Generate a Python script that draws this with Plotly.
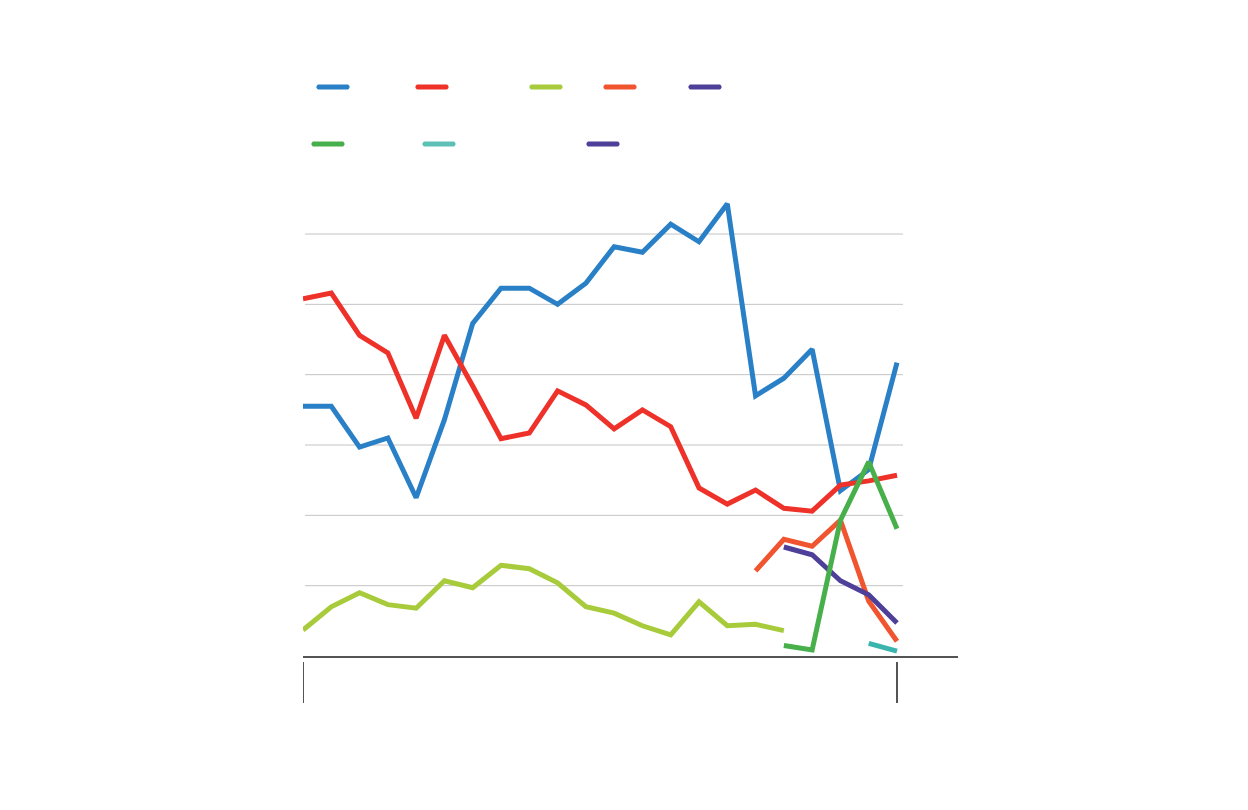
import math
import plotly.graph_objects as go

# x positions: 22 equally spaced periods (labels not shown in reference)
periods = list(range(22))

blue = [35.5, 35.5, 29.7, 31.0, 22.5, 33.6, 47.3, 52.3, 52.3, 50.0, 53.0,
        58.2, 57.4, 61.4, 58.9, 64.3, 37.0, 39.5, 43.6, 23.5, 26.5, 41.7]
red = [50.8, 51.6, 45.6, 43.1, 33.8, 45.6, 38.4, 30.9, 31.7, 37.7, 35.7,
       32.3, 35.0, 32.6, 23.9, 21.6, 23.6, 21.0, 20.6, 24.3, 24.9, 25.7]
lime = [3.7, 7.0, 9.0, 7.3, 6.8, 10.7, 9.7, 12.9, 12.4, 10.4, 7.0,
        6.1, 4.3, 3.0, 7.7, 4.3, 4.5, 3.6, None, None, None, None]
orange = [None] * 16 + [12.1, 16.6, 15.6, 19.3, 7.8, 2.1]
purple = [None] * 17 + [15.5, 14.4, 10.7, 8.7, 4.7]
green = [None] * 17 + [1.5, 0.85, 19.3, 27.6, 18.1]
teal = [None] * 20 + [1.8, 0.7]

series = [
    ("blue", blue, "#2a80c6"),
    ("red", red, "#ee3129"),
    ("lime", lime, "#a8cb3c"),
    ("orange", orange, "#f1552f"),
    ("purple", purple, "#4e3f98"),
    ("green", green, "#47b04b"),
    ("teal", teal, "#3ab5ae"),
]

grid_values = [10, 20, 30, 40, 50, 60]

# legend swatches (no labels in reference)
legend_colors = ["#2a80c6", "#ee3129", "#a8cb3c", "#f1552f", "#4e3f98",
                 "#47b04b", "#5ebfb6", "#4e3f98"]

fig = go.Figure()
for name, vals, col in series:
    fig.add_trace(go.Scatter(x=periods, y=vals, mode="lines", name=name,
                             line=dict(color=col, width=5),
                             connectgaps=False, showlegend=False,
                             hoverinfo="skip"))

# plot area geometry in screen pixels
L, R, T, B = 303, 958, 192, 656
W, H = R - L, B - T
OFF = 8  # page body margin offset

def px_x(p):
    return (p - L) / W

def px_y(p):
    return (B - p) / H

def capsule_path(x0, x1, yc, r=2.6, n=8):
    pts = []
    for i in range(n + 1):
        a = -math.pi / 2 + math.pi * i / n
        pts.append((x1 + r * math.cos(a), yc + r * math.sin(a)))
    for i in range(n + 1):
        a = math.pi / 2 + math.pi * i / n
        pts.append((x0 + r * math.cos(a), yc + r * math.sin(a)))
    d = "M " + " L ".join(f"{px_x(px):.5f},{px_y(py):.5f}" for px, py in pts) + " Z"
    return d

shapes = []
# gridlines (end short of the axis line)
for g in grid_values:
    shapes.append(dict(type="line", xref="paper", yref="y",
                       x0=px_x(305), x1=px_x(903), y0=g, y1=g,
                       line=dict(color="#c4c4c4", width=1), layer="below"))
# end tick marks below axis
for xv in [periods[0], periods[-1]]:
    shapes.append(dict(type="line", xref="x", yref="paper",
                       x0=xv, x1=xv, y0=px_y(662), y1=px_y(703),
                       line=dict(color="#555555", width=2)))
# legend swatches (rounded)
leg_pos = [(317, 87), (416, 87), (530, 87), (604, 87), (689, 87),
           (312, 144), (423, 144), (587, 144)]
for (lx, ly), col in zip(leg_pos, legend_colors):
    shapes.append(dict(type="path", xref="paper", yref="paper",
                       path=capsule_path(lx + 2, lx + 30, ly),
                       fillcolor=col, line=dict(width=0)))

fig.update_layout(
    width=1248, height=810,
    margin=dict(l=L - OFF, r=1248 - R + OFF, t=T - OFF, b=810 - B + OFF),
    paper_bgcolor="white", plot_bgcolor="white",
    shapes=shapes,
    xaxis=dict(range=[0, W / ((897 - 303) / 21)], showgrid=False,
               zeroline=False, showline=True, linecolor="#555555",
               linewidth=2, showticklabels=False, ticks=""),
    yaxis=dict(range=[0, H / 7.033], showgrid=False, zeroline=False,
               showline=False, showticklabels=False, ticks=""),
    showlegend=False,
)

fig.write_html("out.html")
